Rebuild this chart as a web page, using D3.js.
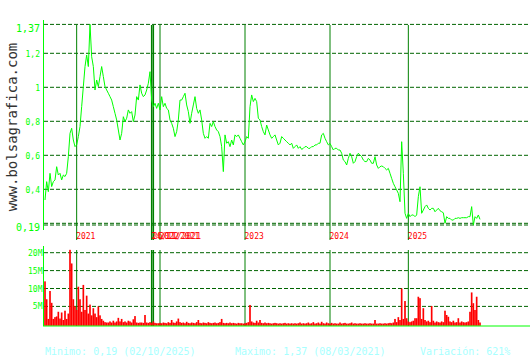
<!DOCTYPE html>
<meta charset="utf-8">
<script src="https://d3js.org/d3.v7.min.js"></script>
<style>
    body { margin: 0; background: #fff; }
    text { font-family: "DejaVu Sans Mono", monospace; }
</style>
<div id="chart"></div>
<script>
    // closing price, one sample per step
    const prices = [
        0.337, 0.445, 0.386, 0.494, 0.416, 0.445, 0.455, 0.533, 0.484, 0.494,
        0.455, 0.484, 0.475, 0.494, 0.592, 0.729, 0.759, 0.690, 0.651, 0.661,
        0.710, 0.769, 0.886, 1.004, 1.122, 1.190, 1.122, 1.370, 1.180, 1.122,
        0.984, 1.043, 1.004, 1.063, 1.122, 1.063, 1.004, 0.984, 0.965, 0.945,
        0.925, 0.886, 0.847, 0.808, 0.749, 0.690, 0.729, 0.827, 0.798, 0.818,
        0.867, 0.847, 0.857, 0.798, 0.837, 0.945, 0.925, 1.014, 0.965, 0.945,
        0.955, 0.984, 1.024, 1.092, 0.925, 0.886, 0.906, 0.876, 0.906, 0.867,
        0.945, 0.886, 0.906, 0.876, 0.867, 0.808, 0.788, 0.759, 0.710, 0.739,
        0.808, 0.925,
        0.925, 0.945, 0.965, 0.896, 0.857, 0.788, 0.847, 0.896, 0.945, 0.876,
        0.847, 0.867, 0.808, 0.729, 0.700, 0.710, 0.700, 0.788, 0.769, 0.798,
        0.769, 0.749, 0.739, 0.710, 0.651, 0.504, 0.720, 0.671, 0.680, 0.651,
        0.690, 0.661, 0.720, 0.710, 0.720, 0.700, 0.680, 0.661, 0.680, 0.710,
        0.700, 0.886, 0.955, 0.916, 0.935, 0.916, 0.818, 0.808, 0.769, 0.739,
        0.720, 0.778, 0.749, 0.720, 0.700, 0.710, 0.720, 0.690, 0.661, 0.671,
        0.710, 0.700, 0.690, 0.680, 0.671, 0.661, 0.671, 0.641, 0.651, 0.661,
        0.641, 0.651, 0.635, 0.641, 0.651, 0.651, 0.641, 0.641, 0.651, 0.651,
        0.661, 0.661, 0.671, 0.671, 0.720, 0.729, 0.700, 0.680, 0.661,
        0.670, 0.651, 0.631, 0.641, 0.641, 0.631, 0.631, 0.612, 0.572, 0.563,
        0.543, 0.582, 0.612, 0.592, 0.553, 0.563, 0.592, 0.612, 0.602, 0.592,
        0.572, 0.563, 0.563, 0.582, 0.572, 0.553, 0.553, 0.592, 0.543, 0.523,
        0.533, 0.537, 0.533, 0.523, 0.514, 0.523, 0.494, 0.464, 0.435, 0.415,
        0.396, 0.376, 0.327, 0.680, 0.494, 0.259, 0.229, 0.259, 0.239, 0.249,
        0.249, 0.239, 0.249, 0.357, 0.415, 0.259, 0.278, 0.298, 0.308, 0.288,
        0.278, 0.288, 0.288, 0.268, 0.278, 0.288, 0.274, 0.268, 0.262, 0.200,
        0.239, 0.229, 0.229, 0.219, 0.219, 0.229, 0.229, 0.233, 0.229, 0.233,
        0.233, 0.233, 0.233, 0.239, 0.239, 0.298, 0.190, 0.239, 0.229, 0.249,
        0.223
    ];

    // volume in millions, same steps
    const volumes = [
        12, 7, 1.5, 9.3, 6, 1.5, 2, 2.2, 3.5, 1.6,
        3.3, 1.2, 3.8, 1.5, 3, 20.8, 17, 7, 5, 4,
        10.5, 7, 3.5, 11, 4, 8, 3, 5.5, 2.5, 4.5,
        3, 2, 5, 2.5, 1.5, 1, 0.6, 0.5, 0.5, 0.8,
        0.5, 1, 0.5, 0.8, 1.8, 0.8, 1.5, 0.6, 0.8, 0.5,
        1, 0.8, 0.5, 1.4, 2.3, 0.5, 0.4, 0.5, 0.5, 0.4,
        2.6, 0.5, 0.4, 0.6, 0.4, 0.8, 0.4, 0.3, 0.3, 0.4,
        0.3, 0.5, 0.4, 0.3, 0.6, 0.4, 1.2, 0.5, 0.4, 0.8,
        1.6, 0.6, 0.4, 0.5, 0.3, 0.7, 0.4, 0.3, 0.5, 0.4,
        0.3, 0.6, 1.2, 0.4, 0.3, 0.5, 0.4, 0.3, 0.6, 0.4,
        0.3, 0.4, 0.5, 0.3, 0.4, 0.6, 1.5, 0.4, 0.3, 0.4,
        0.3, 0.5, 0.3, 0.4, 0.3, 0.2, 0.4, 0.3, 0.3, 0.2,
        0.3, 0.4, 0.6, 5.4, 0.8, 0.5, 0.4, 1, 0.5, 1.2,
        0.4, 0.3, 0.5, 0.3, 0.4, 0.3, 0.2, 0.3, 0.4, 0.3,
        0.2, 0.3, 0.2, 0.3, 0.4, 0.2, 0.3, 0.2, 0.3, 0.2,
        0.3, 0.2, 0.3, 0.5, 0.2, 0.3, 0.2, 0.3, 0.5, 0.2,
        0.3, 0.6, 0.2, 0.3, 0.5, 0.2, 0.7, 0.3, 0.2, 0.5,
        0.3, 0.2, 0.4, 0.2, 0.3, 0.2, 0.2, 0.5, 0.2, 0.3,
        0.4, 0.2, 0.2, 0.3, 0.5, 0.2, 0.3, 0.2, 0.2, 0.3,
        0.2, 0.2, 0.3, 0.2, 0.2, 0.3, 0.2, 0.2, 1.2, 0.2,
        0.2, 0.3, 0.2, 0.2, 0.3, 0.2, 0.3, 0.4, 0.3, 0.5,
        1.5, 0.6, 2, 1.2, 10, 1.5, 6.5, 1.7, 0.8, 0.6,
        0.8, 1, 1.7, 1.7, 7.7, 7.3, 1.5, 4.5, 1.2, 0.8,
        1, 0.6, 5.1, 1, 0.5, 0.8, 0.6, 0.5, 0.8, 0.6,
        3.8, 2.6, 2.1, 0.8, 0.6, 1, 0.5, 0.6, 1.7, 0.5,
        0.8, 0.6, 0.5, 0.6, 0.8, 3.5, 8.9, 5.9, 4, 7.7,
        1.2, 0.5
    ];

    // year / event markers (step where they fall)
    const markLabels = ["2021", "24/11/2021", "26/11/2021", "2022", "2023", "2024", "2025"];
    const markSteps = [19, 64, 65, 69, 120, 171, 218];
    const markWidths = [1, 1.5, 1.5, 1, 1, 1, 1];

    const priceTicks = [1.2, 1, 0.8, 0.6, 0.4];
    const priceGrid = [1.37, 1.2, 1, 0.8, 0.6, 0.4, 0.2, 0.19];
    const volTicks = [5, 10, 15, 20];

    const footer = ["Minimo: 0,19 (02/10/2025)", "Maximo: 1,37 (08/03/2021)", "Variación: 621%"];

    const width = 530, height = 360;
    const bright = "#00ff00", grid = "#006400", yearCol = "#008000";

    const svg = d3.select("#chart").append("svg")
        .attr("width", width)
        .attr("height", height);

    const x = d3.scaleLinear().domain([0, prices.length - 1]).range([45, 480]);
    const y = d3.scaleLinear().domain([0.19, 1.37]).range([225, 24.4]);
    const yv = d3.scaleLinear().domain([0, 20]).range([324.3, 252.7]);
    const step = x(1) - x(0);
    const comma = v => String(v).replace(".", ",");

    // watermark
    svg.append("text")
        .attr("transform", "translate(17,127) rotate(-90)")
        .attr("text-anchor", "middle")
        .style("font-size", "14px")
        .style("fill", "#333")
        .text("www.bolsagrafica.com");

    // price grid
    svg.selectAll("line.pgrid")
        .data(priceGrid)
        .enter()
        .append("line")
        .attr("class", "pgrid")
        .attr("x1", 44).attr("x2", 528)
        .attr("y1", d => y(d)).attr("y2", d => y(d))
        .attr("stroke", grid)
        .attr("stroke-dasharray", "4,2");

    // volume grid
    svg.selectAll("line.vgrid")
        .data(volTicks)
        .enter()
        .append("line")
        .attr("class", "vgrid")
        .attr("x1", 44).attr("x2", 528)
        .attr("y1", d => yv(d)).attr("y2", d => yv(d))
        .attr("stroke", grid)
        .attr("stroke-dasharray", "4,2");

    // year lines, both panels
    const marks = markSteps.map((s, i) => ({ s, label: markLabels[i], w: markWidths[i] }));
    [[25, 240], [250, 326]].forEach(([a, b]) => {
        svg.selectAll(null)
            .data(marks)
            .enter()
            .append("line")
            .attr("x1", d => x(d.s)).attr("x2", d => x(d.s))
            .attr("y1", a).attr("y2", b)
            .attr("stroke", yearCol)
            .attr("stroke-width", d => d.w);
    });

    svg.selectAll("text.year")
        .data(marks)
        .enter()
        .append("text")
        .attr("class", "year")
        .attr("x", d => x(d.s) - 0.5)
        .attr("y", 238.5)
        .style("font-size", "8px")
        .style("fill", "#ff0000")
        .text(d => d.label);

    // volume bars
    svg.selectAll("rect.vol")
        .data(volumes)
        .enter()
        .append("rect")
        .attr("class", "vol")
        .attr("x", (d, i) => x(i) - step / 2)
        .attr("width", step)
        .attr("y", d => yv(d))
        .attr("height", d => yv(0) - yv(d) + 1.5)
        .attr("fill", "#ff0000");

    // price line
    svg.append("path")
        .datum(prices)
        .attr("d", d3.line().x((d, i) => x(i)).y(d => y(d)))
        .attr("fill", "none")
        .attr("stroke", bright)
        .attr("stroke-width", 1);

    // axes lines
    svg.append("line").attr("x1", 43.5).attr("x2", 43.5).attr("y1", 20).attr("y2", 230).attr("stroke", bright);
    svg.append("line").attr("x1", 43.5).attr("x2", 43.5).attr("y1", 246).attr("y2", 326).attr("stroke", bright);
    svg.append("line").attr("x1", 43).attr("x2", 530).attr("y1", 326).attr("y2", 326).attr("stroke", bright);

    // price labels
    svg.selectAll("text.plab")
        .data(priceTicks)
        .enter()
        .append("text")
        .attr("class", "plab")
        .attr("x", 40)
        .attr("y", d => y(d) + 3.5)
        .attr("text-anchor", "end")
        .style("font-size", "8px")
        .style("fill", bright)
        .text(d => comma(d));

    svg.append("text").attr("x", 40).attr("y", 31.5).attr("text-anchor", "end")
        .style("font-size", "10px").style("fill", bright).text(comma(1.37));
    svg.append("text").attr("x", 40).attr("y", 231).attr("text-anchor", "end")
        .style("font-size", "10px").style("fill", bright).text(comma(0.19));

    // volume labels
    svg.selectAll("text.vlab")
        .data(volTicks)
        .enter()
        .append("text")
        .attr("class", "vlab")
        .attr("x", 42.5)
        .attr("y", d => yv(d) + 3)
        .attr("text-anchor", "end")
        .style("font-size", "8px")
        .style("fill", bright)
        .text(d => d + "M");

    // footer
    svg.selectAll("text.foot")
        .data(footer)
        .enter()
        .append("text")
        .attr("class", "foot")
        .attr("x", (d, i) => [45, 235, 420][i])
        .attr("y", 355)
        .style("font-size", "10px")
        .style("fill", "#a8ffff")
        .text(d => d);
</script>
